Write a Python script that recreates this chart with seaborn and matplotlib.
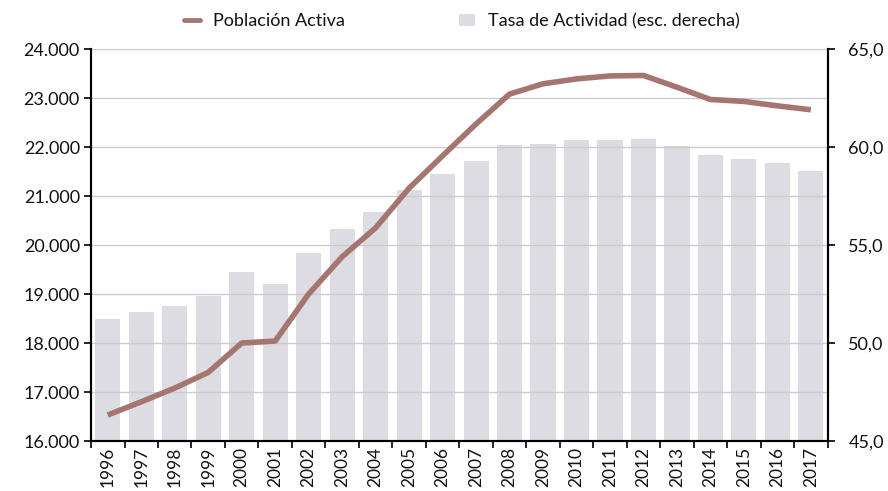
import matplotlib
matplotlib.use("Agg")
import matplotlib.pyplot as plt
import matplotlib.ticker as mticker
from matplotlib.lines import Line2D
from matplotlib.patches import Patch
import seaborn as sns
import pandas as pd
import numpy as np

years = [str(y) for y in range(1996, 2018)]
poblacion_activa = [16530, 16800, 17080, 17400, 18000, 18040, 19000, 19760, 20350, 21160,
                    21820, 22470, 23080, 23290, 23390, 23450, 23460, 23220, 22970, 22930,
                    22840, 22760]
tasa_actividad = [51.2, 51.6, 51.9, 52.4, 53.6, 53.0, 54.6, 55.8, 56.7, 57.8,
                  58.6, 59.3, 60.1, 60.15, 60.35, 60.35, 60.4, 60.05, 59.6, 59.4,
                  59.2, 58.8]

line_label = "Población Activa"
bar_label = "Tasa de Actividad (esc. derecha)"
line_color = "#a57570"
bar_color = "#dcdce2"

df = pd.DataFrame({"year": years, "pob": poblacion_activa, "tasa": tasa_actividad})

sns.set_theme(style="white")
plt.rcParams['font.family'] = ['Lato', 'DejaVu Sans']

fig = plt.figure(figsize=(8.88, 4.91), dpi=100)
ax = fig.add_axes([0.1025, 0.1018, 0.8295, 0.7984])
ax2 = ax.twinx()

sns.barplot(data=df, x="year", y="tasa", ax=ax2, color=bar_color, width=0.75,
            saturation=1, edgecolor="none")
sns.pointplot(data=df, x="year", y="pob", ax=ax, color=line_color, markers="",
              linestyles="-", errorbar=None)
for l in ax.lines:
    l.set_linewidth(4.0)
    l.set_solid_capstyle("butt")

ax.set_zorder(ax2.get_zorder() + 1)
ax.patch.set_visible(False)

ax.set_ylim(16000, 24000)
ax2.set_ylim(45, 65)
ax.set_xlim(-0.5, len(years) - 0.5)
ax.yaxis.set_major_locator(mticker.MultipleLocator(1000))
ax2.yaxis.set_major_locator(mticker.MultipleLocator(5))
ax.yaxis.set_major_formatter(mticker.FuncFormatter(lambda v, p: f"{int(v):,}".replace(",", ".")))
ax2.yaxis.set_major_formatter(mticker.FuncFormatter(lambda v, p: f"{v:.1f}".replace(".", ",")))

ax.grid(axis="y", color="#cccccc", linewidth=1.0)
ax.set_axisbelow(True)
ax.set_xlabel("")
ax.set_ylabel("")
ax2.set_xlabel("")
ax2.set_ylabel("")

# x ticks at category boundaries
ax.set_xticks(range(len(years)))
ax.set_xticklabels(years, rotation=90)
ax.xaxis.set_minor_locator(mticker.FixedLocator(np.arange(-0.5, len(years), 1.0)))
ax.tick_params(axis="x", which="major", length=0, labelsize=12.5, pad=4, colors="#111111")
ax.tick_params(axis="x", which="minor", length=5, width=1.2, color="black", bottom=True)
ax.tick_params(axis="y", which="major", length=5, width=1.2, color="black", left=True,
               labelsize=13, labelcolor="#111111", pad=3)
ax2.tick_params(axis="y", which="major", length=5, width=1.2, color="black", right=True,
                labelsize=13, labelcolor="#111111", pad=10)
ax2.tick_params(axis="x", length=0)

for a in (ax, ax2):
    a.spines["top"].set_visible(False)
    for s in ("left", "right", "bottom"):
        a.spines[s].set_color("black")
        a.spines[s].set_linewidth(1.5)

handles = [Line2D([0], [0], color=line_color, linewidth=3.5),
           Patch(facecolor=bar_color, edgecolor="none")]
fig.legend(handles, [line_label, bar_label], loc="center", bbox_to_anchor=(0.52, 0.957),
           ncol=2, frameon=False, fontsize=13, columnspacing=6.3, handlelength=0.9,
           handletextpad=0.7, labelcolor="#111111")

fig.savefig("out.png", dpi=100)
